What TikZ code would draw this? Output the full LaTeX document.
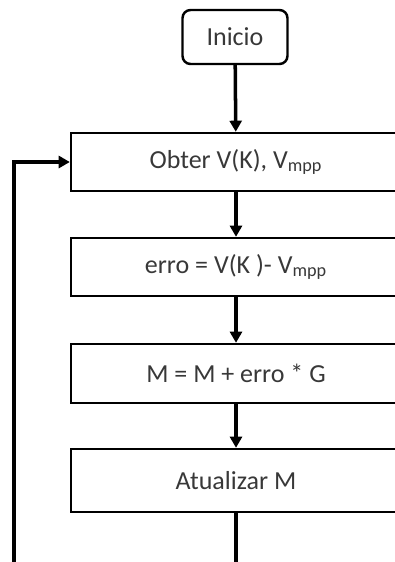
\documentclass[tikz,border=0pt]{standalone}
\usepackage{fontspec}
\setmainfont{Carlito}
\usetikzlibrary{arrows.meta}
\tikzset{
  passo/.style={draw, line width=1.4pt, rectangle, minimum width=6.6cm, minimum height=1.16cm,
    inner sep=0pt, text=black!78, font=\fontsize{14.8}{17}\selectfont},
  inicio/.style={passo, rounded corners=0.16cm, minimum width=2.1cm, minimum height=1.08cm},
  seta/.style={line width=2pt, -{Triangle[width=6.8pt,length=6.3pt]}},
  linha/.style={line width=2pt}
}
\begin{document}
\begin{tikzpicture}[x=0.02cm, y=-0.02cm]
    \useasboundingbox (0,0) rectangle (395,562);
    \clip (0,0) rectangle (395,562);
	\node[inicio] (ini) at (235,37) {Inicio};
	\node[passo] (obter) at (236,162) {Obter V(K), V\textsubscript{mpp}};
	\node[passo] (erro) at (236,267) {erro = V(K )- V\textsubscript{mpp}};
	\node[passo, minimum height=1.18cm] (calc) at (236,373.5) {M = M + erro * G};
	\node[passo, minimum height=1.26cm] (atual) at (236,480.5) {Atualizar M};
	\draw[seta] (ini) -- (obter);
	\draw[seta] (obter) -- (erro);
	\draw[seta] (erro) -- (calc);
	\draw[seta] (calc) -- (atual);
	% retorno ao inicio do laco (cortado na borda de baixo)
	\coordinate (fundo) at (236,580);
	\coordinate (canto) at (14,580);
	\draw[linha] (atual) -- (fundo) -- (canto);
	\draw[seta] (canto) |- (obter.west);
\end{tikzpicture}
\end{document}
